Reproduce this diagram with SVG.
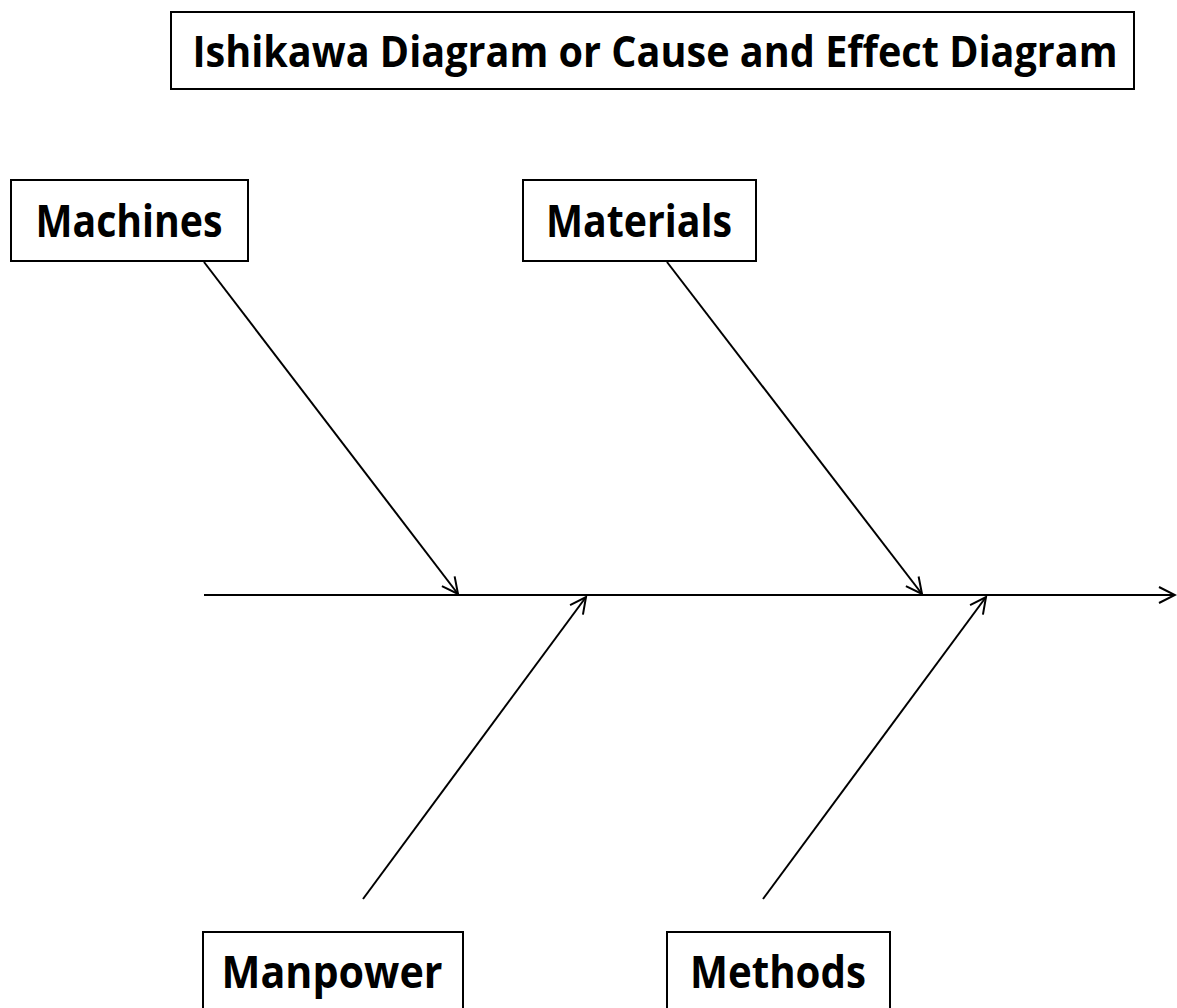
<svg xmlns="http://www.w3.org/2000/svg" width="1177" height="1008" viewBox="0 0 1177 1008">
<style>
.box{fill:#fff;stroke:#000;stroke-width:2}
.lbl{font-family:"Open Sans","Liberation Sans",sans-serif;font-weight:bold;font-size:44px;fill:#000;text-anchor:middle}
.ttl{font-family:"Open Sans","Liberation Sans",sans-serif;font-weight:bold;font-size:43px;fill:#000;text-anchor:middle}
.ln{stroke:#000;stroke-width:2;fill:none}
</style>
<defs>
<marker id="arr" viewBox="0 0 20 20" refX="18" refY="10" markerWidth="20" markerHeight="20" markerUnits="userSpaceOnUse" orient="auto">
<path d="M2,2 L18,10 L2,18" fill="none" stroke="#000" stroke-width="2"/>
</marker>
</defs>
<rect width="1177" height="1008" fill="#fff"/>
<g id="title">
<rect class="box" x="171" y="12" width="963" height="77"/>
<text class="ttl" transform="translate(655,67) scale(0.9,1)" x="0" y="0" textLength="1028" lengthAdjust="spacingAndGlyphs">Ishikawa Diagram or Cause and Effect Diagram</text>
</g>
<g id="connectors">
<line class="ln" x1="204" y1="595" x2="1175" y2="595" marker-end="url(#arr)"/>
<line class="ln" x1="204" y1="262" x2="458" y2="594" marker-end="url(#arr)"/>
<line class="ln" x1="667" y1="262" x2="922" y2="594" marker-end="url(#arr)"/>
<line class="ln" x1="363" y1="899" x2="586" y2="597" marker-end="url(#arr)"/>
<line class="ln" x1="763" y1="899" x2="986" y2="597" marker-end="url(#arr)"/>
</g>
<g id="machines">
<rect class="box" x="11" y="180" width="237" height="81"/>
<text class="lbl" x="129" y="237" textLength="187" lengthAdjust="spacingAndGlyphs">Machines</text>
</g>
<g id="materials">
<rect class="box" x="523" y="180" width="233" height="81"/>
<text class="lbl" x="639" y="237" textLength="186" lengthAdjust="spacingAndGlyphs">Materials</text>
</g>
<g id="manpower">
<rect class="box" x="203" y="932" width="260" height="90"/>
<text class="lbl" x="332" y="988" textLength="221" lengthAdjust="spacingAndGlyphs">Manpower</text>
</g>
<g id="methods">
<rect class="box" x="667" y="932" width="223" height="90"/>
<text class="lbl" x="778" y="988" textLength="176" lengthAdjust="spacingAndGlyphs">Methods</text>
</g>
</svg>
